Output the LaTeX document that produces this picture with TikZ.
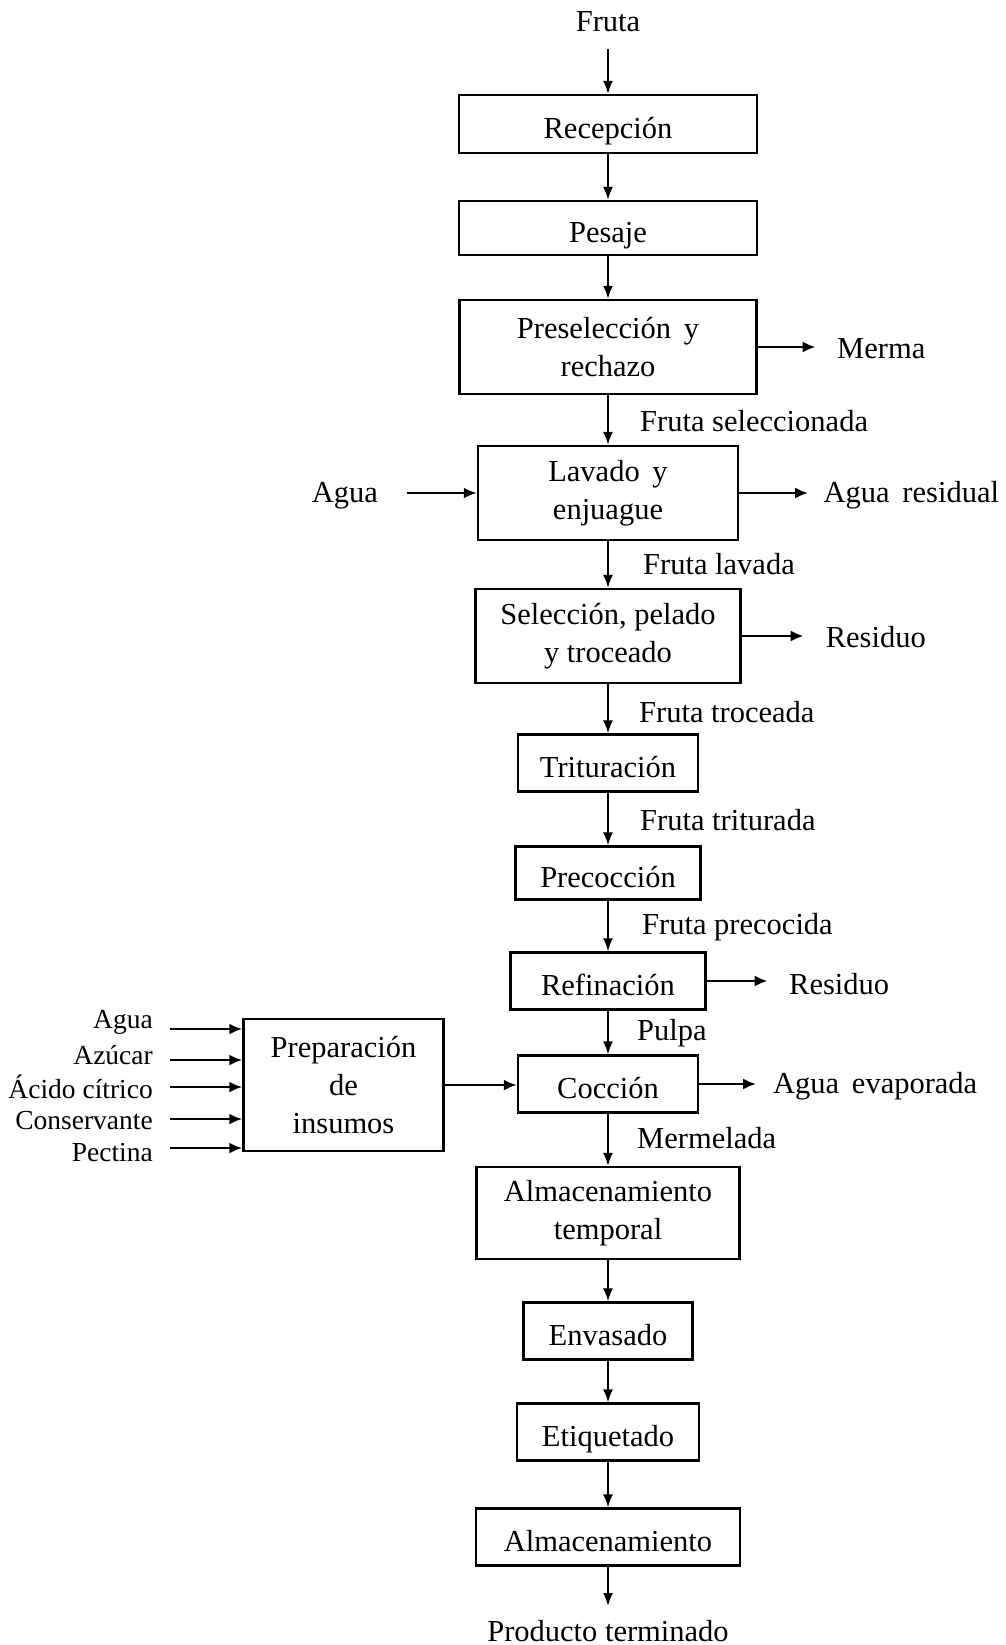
\documentclass[tikz,border=0pt]{standalone}
\usepackage{fontspec}
\setmainfont{Liberation Serif}
\usetikzlibrary{arrows.meta}
\begin{document}
\begin{tikzpicture}[x=1pt,y=-1pt,
  box/.style={draw,line width=2.3pt,align=center,inner sep=0pt,font=\fontsize{30.5}{38}\selectfont},
  one/.style={text height=36pt,text depth=7pt},
  lbl/.style={inner sep=0pt,font=\fontsize{30.5}{38}\selectfont},
  slbl/.style={inner sep=0pt,anchor=east,font=\fontsize{27.5}{33}\selectfont},
  arr/.style={line width=1.9pt,-{Latex[length=13pt,width=10pt]}},
  sarr/.style={line width=2.8pt,-{Latex[length=13pt,width=11pt]}}]
\useasboundingbox (0,0) rectangle (1005,1645);
\def\cx{608}
% main boxes
\node[box,one,minimum width=298pt,minimum height=58pt] (rec) at (\cx,124) {Recepción};
\node[box,one,minimum width=298pt,minimum height=54pt] (pes) at (\cx,228) {Pesaje};
\node[box,minimum width=297pt,minimum height=94pt] (pre) at (\cx,347) {Preselección\, y\\rechazo};
\node[box,minimum width=260pt,minimum height=94pt] (lav) at (\cx,493) {Lavado\, y\\enjuague};
\node[box,minimum width=265pt,minimum height=94pt] (sel) at (\cx,636) {Selección, pelado\\y troceado};
\node[box,one,minimum width=180pt,minimum height=57pt] (tri) at (\cx,763) {Trituración};
\node[box,one,minimum width=185pt,minimum height=53pt] (prc) at (\cx,873) {Precocción};
\node[box,one,minimum width=195pt,minimum height=57pt] (ref) at (\cx,981) {Refinación};
\node[box,one,minimum width=180pt,minimum height=57pt] (coc) at (\cx,1084) {Cocción};
\node[box,minimum width=263pt,minimum height=92pt] (alt) at (\cx,1213) {Almacenamiento\\temporal};
\node[box,one,minimum width=169pt,minimum height=57pt] (env) at (\cx,1331) {Envasado};
\node[box,one,minimum width=182pt,minimum height=57pt] (eti) at (\cx,1432) {Etiquetado};
\node[box,one,minimum width=264pt,minimum height=57pt] (alm) at (\cx,1537) {Almacenamiento};
\node[box,minimum width=200pt,minimum height=132pt] (prep) at (343.5,1085) {Preparación\\de\\insumos};
% top / bottom
\node[lbl] (fruta) at (\cx,22) {Fruta};
\coordinate (fin) at (\cx,49);
\draw[arr] (fin) -- (rec.north);
\node[lbl] (prod) at (\cx,1631) {Producto terminado};
\coordinate (pout) at (\cx,1606);
\draw[arr] (alm.south) -- (pout);
% vertical flow
\draw[arr] (rec.south) -- (pes.north);
\draw[arr] (pes.south) -- (pre.north);
\draw[arr] (pre.south) -- (lav.north);
\draw[arr] (lav.south) -- (sel.north);
\draw[arr] (sel.south) -- (tri.north);
\draw[arr] (tri.south) -- (prc.north);
\draw[arr] (prc.south) -- (ref.north);
\draw[arr] (ref.south) -- (coc.north);
\draw[arr] (coc.south) -- (alt.north);
\draw[arr] (alt.south) -- (env.north);
\draw[arr] (env.south) -- (eti.north);
\draw[arr] (eti.south) -- (alm.north);
% flow labels
\node[lbl,anchor=west] (l1) at (640,421) {Fruta seleccionada};
\node[lbl,anchor=west] (l2) at (643,564) {Fruta lavada};
\node[lbl,anchor=west] (l3) at (639,712) {Fruta troceada};
\node[lbl,anchor=west] (l4) at (640,820) {Fruta triturada};
\node[lbl,anchor=west] (l5) at (642,927) {Fruta precocida};
\node[lbl,anchor=west] (l6) at (637,1033) {Pulpa};
\node[lbl,anchor=west] (l7) at (637,1138) {Mermelada};
% side outputs
\node[lbl,anchor=west] (merma) at (837,349) {Merma};
\draw[sarr] (pre.east) -- ++(58,0);
\node[lbl,anchor=west] (aguar) at (823.5,495) {Agua\, residual};
\draw[sarr] (lav.east) -- ++(69,0);
\node[lbl,anchor=west] (res1) at (825.6,637) {Residuo};
\draw[sarr] (sel.east) -- ++(62,0);
\node[lbl,anchor=west] (res2) at (789,984) {Residuo};
\draw[sarr] (ref.east) -- ++(61,0);
\node[lbl,anchor=west] (aguae) at (773,1086) {Agua\, evaporada};
\draw[sarr] (coc.east) -- ++(57,0);
% side input
\node[lbl] (agua) at (345,496) {Agua};
\coordinate (ain) at (407,493);
\draw[sarr] (ain) -- (ain -| lav.west);
% preparation
\draw[sarr] (prep.east) -- (prep.east -| coc.west);
\node[slbl] (i1) at (153,1022) {Agua};
\node[slbl] (i2) at (153,1055) {Azúcar};
\node[slbl] (i3) at (153,1087) {Ácido cítrico};
\node[slbl] (i4) at (153,1121) {Conservante};
\node[slbl] (i5) at (153,1153) {Pectina};
\coordinate (c1) at (170,1029);
\coordinate (c2) at (170,1060);
\coordinate (c3) at (170,1087);
\coordinate (c4) at (170,1119);
\coordinate (c5) at (170,1148);
\foreach \c in {c1,c2,c3,c4,c5} \draw[sarr] (\c) -- (\c -| prep.west);
\end{tikzpicture}
\end{document}
